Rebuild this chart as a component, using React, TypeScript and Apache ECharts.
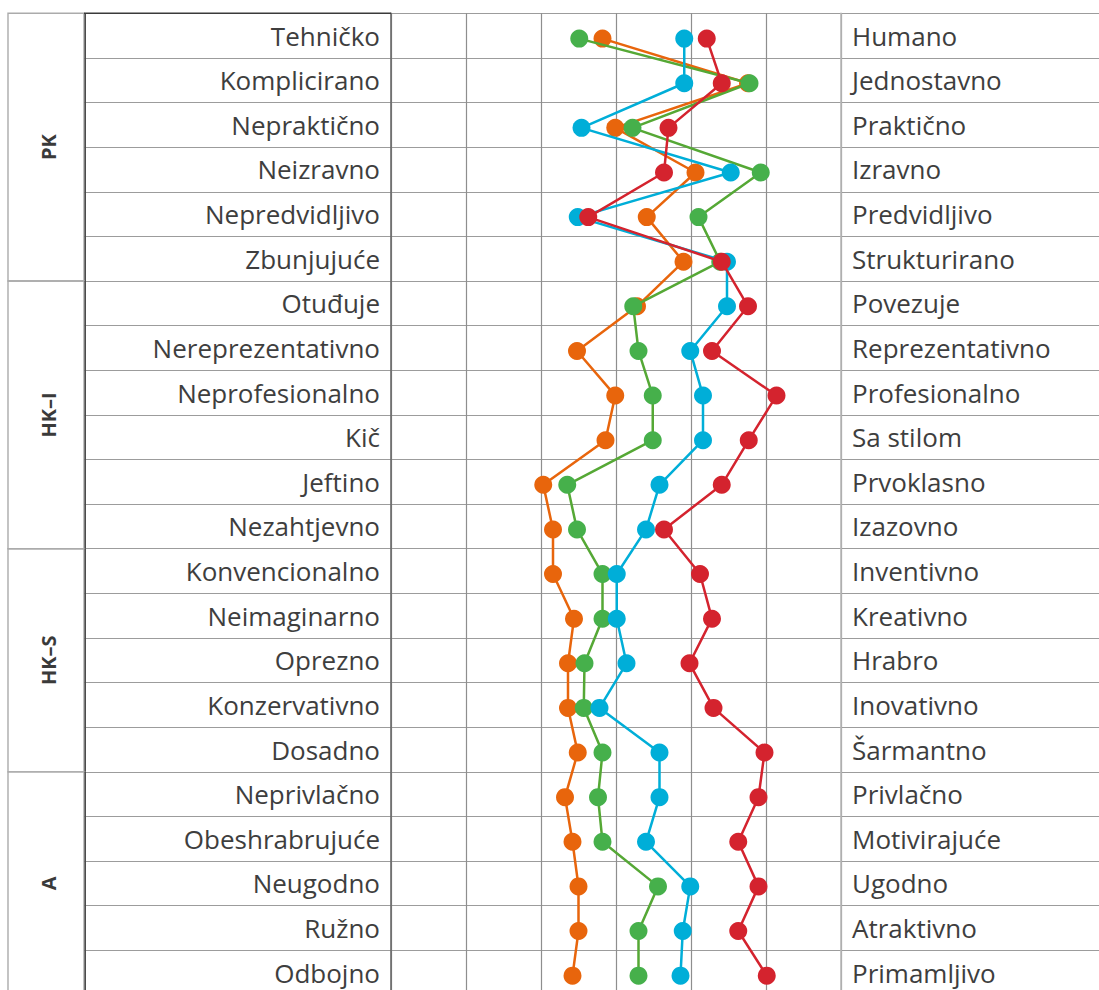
import React, { useEffect, useRef } from "react";
import * as echarts from "echarts";

// ---- data ----
const leftLabels = [
  "Tehničko", "Komplicirano", "Nepraktično", "Neizravno", "Nepredvidljivo", "Zbunjujuće",
  "Otuđuje", "Nereprezentativno", "Neprofesionalno", "Kič", "Jeftino", "Nezahtjevno",
  "Konvencionalno", "Neimaginarno", "Oprezno", "Konzervativno", "Dosadno",
  "Neprivlačno", "Obeshrabrujuće", "Neugodno", "Ružno", "Odbojno",
];
const rightLabels = [
  "Humano", "Jednostavno", "Praktično", "Izravno", "Predvidljivo", "Strukturirano",
  "Povezuje", "Reprezentativno", "Profesionalno", "Sa stilom", "Prvoklasno", "Izazovno",
  "Inventivno", "Kreativno", "Hrabro", "Inovativno", "Šarmantno",
  "Privlačno", "Motivirajuće", "Ugodno", "Atraktivno", "Primamljivo",
];
const groupNames = ["PK", "HK–I", "HK–S", "A"];
const groupSizes = [6, 6, 5, 5];
const scaleTicks = [-3, -2, -1, 0, 1, 2, 3];

const seriesNames = ["Varijanta 1", "Varijanta 2", "Varijanta 3", "Varijanta 4"];
const orangeValues = [-0.18, 1.76, -0.01, 1.06, 0.41, 0.9, 0.28, -0.52, -0.01, -0.14, -0.97, -0.84, -0.84, -0.56, -0.64, -0.64, -0.51, -0.68, -0.58, -0.5, -0.5, -0.58];
const greenValues = [-0.49, 1.78, 0.22, 1.93, 1.1, 1.39, 0.23, 0.3, 0.49, 0.49, -0.65, -0.52, -0.18, -0.18, -0.42, -0.43, -0.18, -0.24, -0.18, 0.56, 0.3, 0.3];
const blueValues = [0.91, 0.91, -0.46, 1.53, -0.51, 1.48, 1.48, 0.99, 1.16, 1.16, 0.58, 0.4, 0.01, 0.01, 0.14, -0.22, 0.58, 0.58, 0.4, 0.99, 0.89, 0.86];
const redValues = [1.21, 1.41, 0.7, 0.64, -0.37, 1.41, 1.76, 1.28, 2.14, 1.77, 1.41, 0.64, 1.12, 1.28, 0.98, 1.3, 1.98, 1.9, 1.63, 1.9, 1.63, 2.01];
const seriesColors = ["#E8650C", "#46B04B", "#00AED8", "#D4232E"];
const lineColors = ["#E8650C", "#55A835", "#00AED8", "#D4232E"];

// ---- layout ----
const W = 1099;
const H = 990;
const TOP = 13.3;
const ROW_H = 44.62;
const DOT_SHIFT = 3;
const GROUP_L = 8;
const LABEL_L = 84;
const PLOT_L = 391;
const PLOT_R = 841;
const FONT = '"Open Sans", "Noto Sans", sans-serif';
const TEXT_COLOR = "#3e3e3e";
const LABEL_SIZE = 26;
const CHART_H = Math.ceil(TOP + leftLabels.length * ROW_H + 4);

export default function App() {
  const ref = useRef<HTMLDivElement>(null);

  useEffect(() => {
    if (!ref.current) return;
    const chart = echarts.init(ref.current, undefined, { renderer: "svg" });
    const nRows = leftLabels.length;
    const tableH = nRows * ROW_H;

    const groupData: number[][] = [];
    let start = 0;
    groupSizes.forEach((s, i) => {
      groupData.push([start, start + s, i]);
      start += s;
    });

    const allValues = [orangeValues, greenValues, blueValues, redValues];
    const gridBase = { outerBoundsMode: "none", containLabel: false };

    const option: any = {
      animation: false,
      backgroundColor: "#ffffff",
      grid: [
        { ...gridBase, left: PLOT_L, width: PLOT_R - PLOT_L, top: TOP, height: tableH },
        { ...gridBase, left: PLOT_L, width: PLOT_R - PLOT_L, top: TOP + DOT_SHIFT, height: tableH },
        { ...gridBase, left: LABEL_L, width: W - LABEL_L, top: TOP, height: tableH },
        { ...gridBase, left: GROUP_L, width: LABEL_L - GROUP_L, top: TOP, height: tableH },
      ],
      xAxis: [
        {
          gridIndex: 0, type: "value", min: scaleTicks[0], max: scaleTicks[scaleTicks.length - 1], interval: 1,
          axisLine: { show: false }, axisTick: { show: false }, axisLabel: { show: false },
          splitLine: { show: true, lineStyle: { color: "#8e8e8e", width: 1.2 } },
        },
        { gridIndex: 1, type: "value", min: scaleTicks[0], max: scaleTicks[scaleTicks.length - 1], show: false },
        { gridIndex: 2, type: "value", min: 0, max: 1, show: false },
        { gridIndex: 3, type: "value", min: 0, max: 1, show: false },
      ],
      yAxis: [
        {
          gridIndex: 0, type: "category", data: leftLabels, inverse: true, position: "left",
          axisLine: { show: true, onZero: false, lineStyle: { color: "#6a6a6a", width: 1.6 } },
          axisTick: { show: false }, splitLine: { show: false },
          axisLabel: { interval: 0, margin: 11, fontSize: LABEL_SIZE, color: TEXT_COLOR, fontFamily: FONT },
        },
        {
          gridIndex: 0, type: "category", data: rightLabels, inverse: true, position: "right",
          axisLine: { show: true, onZero: false, lineStyle: { color: "#b8b8b8", width: 1.6 } },
          axisTick: { show: false }, splitLine: { show: false },
          axisLabel: { interval: 0, margin: 11, fontSize: LABEL_SIZE, color: TEXT_COLOR, fontFamily: FONT },
        },
        { gridIndex: 1, type: "category", data: leftLabels, inverse: true, show: false },
        {
          gridIndex: 2, type: "category", data: leftLabels, inverse: true,
          axisLine: { show: false, onZero: false }, axisTick: { show: false }, axisLabel: { show: false },
          splitLine: { show: true, interval: 0, lineStyle: { color: "#9c9c9c", width: 1.2 } },
        },
        { gridIndex: 3, type: "value", min: 0, max: nRows, inverse: true, show: false },
      ],
      series: [
        {
          type: "custom",
          xAxisIndex: 3,
          yAxisIndex: 4,
          silent: true,
          data: groupData,
          renderItem: (_params: any, api: any) => {
            const s = api.value(0);
            const e = api.value(1);
            const idx = api.value(2);
            const p0 = api.coord([0, s]);
            const p1 = api.coord([1, e]);
            return {
              type: "group",
              children: [
                {
                  type: "rect",
                  shape: { x: p0[0], y: p0[1], width: p1[0] - p0[0], height: p1[1] - p0[1] },
                  style: { fill: "none", stroke: "#ababab", lineWidth: 1.4 },
                },
                {
                  type: "line",
                  shape: { x1: p1[0] + 1.2, y1: p0[1], x2: p1[0] + 1.2, y2: p1[1] },
                  style: { stroke: "#4c4c4c", lineWidth: 1.6 },
                },
                {
                  type: "text",
                  x: (p0[0] + p1[0]) / 2 + 2,
                  y: (p0[1] + p1[1]) / 2,
                  rotation: Math.PI / 2,
                  style: {
                    text: groupNames[idx],
                    align: "center",
                    verticalAlign: "middle",
                    fontSize: 20,
                    fontWeight: "bold",
                    fontFamily: FONT,
                    fill: "#3a3a3a",
                  },
                },
              ],
            };
          },
        },
        ...allValues.map((vals, si) => ({
          type: "line",
          name: seriesNames[si],
          xAxisIndex: 1,
          yAxisIndex: 2,
          data: vals.map((v, i) => [v, i]),
          symbol: "circle",
          symbolSize: 18,
          showSymbol: true,
          lineStyle: { color: lineColors[si], width: 2.5 },
          itemStyle: { color: seriesColors[si] },
          emphasis: { disabled: true },
          z: 3 + si,
        })),
      ],
      graphic: [
        {
          type: "line",
          shape: { x1: LABEL_L, y1: TOP, x2: PLOT_L, y2: TOP },
          style: { stroke: "#3a3a3a", lineWidth: 1.4 },
          z: 10,
        },
      ],
    };
    chart.setOption(option);
    return () => chart.dispose();
  }, []);

  return (
    <div
      style={{ position: "fixed", left: 0, top: 0, width: W, height: H, overflow: "hidden", background: "#fff" }}
    >
      <div ref={ref} style={{ width: W, height: CHART_H }} />
    </div>
  );
}
